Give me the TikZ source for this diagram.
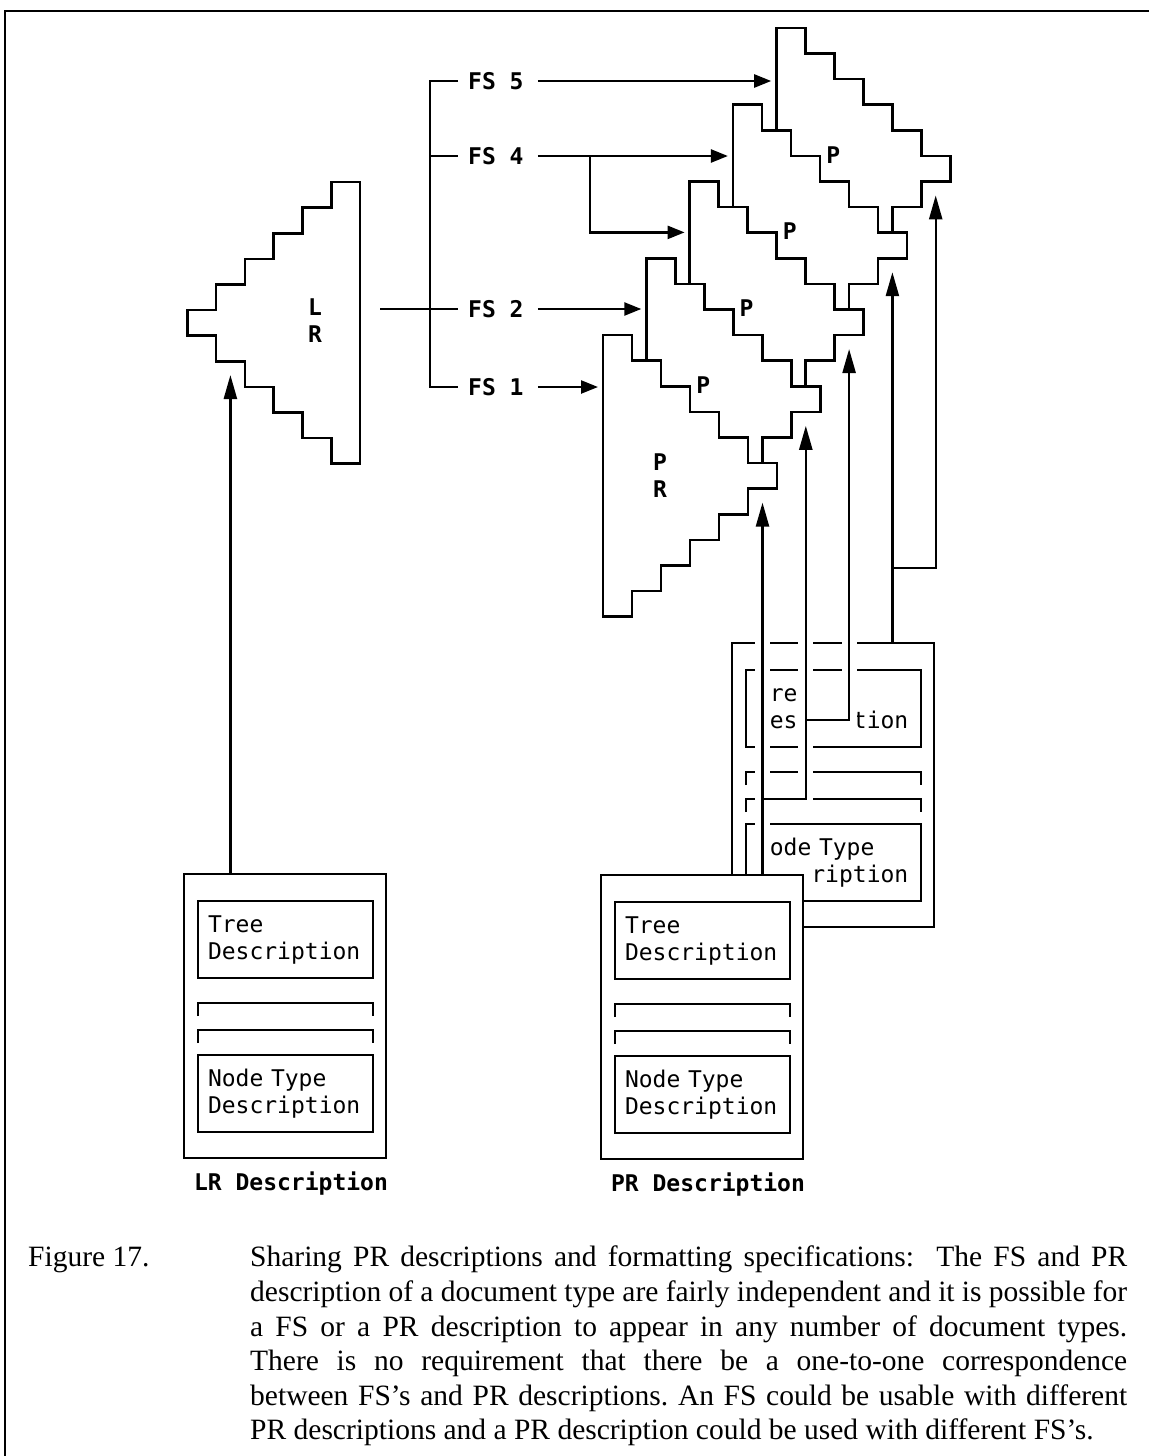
\documentclass[tikz,border=0pt]{standalone}
\usepackage{fontspec}
\setmainfont{Liberation Serif}
\newfontfamily\dotfont{DejaVu Sans Mono}[WordSpace={1,0,0}]
\usetikzlibrary{arrows.meta, positioning, calc, backgrounds}

% one description: frame, tree box, two open slots, node type box
\newcommand{\descframe}[5]{%
  \node[doc, anchor=north west] (#1) at (#2,#3) {};
  \node[part, anchor=north west] (#1-tree) at (#2+14,#3+27) {#4};
  \node[part, anchor=north west] (#1-type) at (#2+14,#3+181) {#5};
  \draw[wire] (#2+14,#3+142) |- (#2+189,#3+129) -- ++(0,13);
  \draw[wire] (#2+14,#3+169) |- (#2+189,#3+156) -- ++(0,13);
}

\begin{document}
\begin{tikzpicture}[
        x=1pt, y=-1pt,
        wire/.style={line width=2.4pt},
        stair/.style={draw, fill=white, line width=2.6pt},
        stairs/.style={insert path={
            foreach \i in {1,...,5}{ -- ++(#1,0) -- ++(0,25.6) } -- ++(#1,0) -- ++(0,25.6)
            foreach \i in {1,...,5}{ -- ++({-(#1)},0) -- ++(0,25.6) } -- ++({-(#1)},0) -- cycle}},
        doc/.style={draw, fill=white, line width=2.6pt, minimum width=202pt, minimum height=284pt,
            inner sep=0pt, outer sep=0pt},
        part/.style={draw, line width=2.4pt, minimum width=175pt, minimum height=77pt, text width=155pt,
            align=left, inner sep=0pt, outer sep=0pt, font=\dotfont\fontsize{23}{27}\selectfont},
        fs/.style={inner sep=0pt, font=\dotfont\bfseries\fontsize{23}{27}\selectfont},
        rel/.style={wire, -{Triangle[length=24pt,width=13pt]}},
        fsrel/.style={wire, -{Triangle[length=17pt,width=13pt]}, shorten >=5pt},
        gap/.style={white, line width=15pt},
        capt/.style={inner sep=0pt, font=\fontsize{29.5}{34.6}\selectfont\frenchspacing}
    ]
    \useasboundingbox (0,0) rectangle (1149,1456);
    \draw[wire] (1149,11) -- (5,11) -- (5,1456);

    % presentation trees, the back ones first
    \foreach \k in {4,3,2,1,0} {
        \coordinate (s\k) at (603+43.3*\k,335-76.8*\k);
        \coordinate (t\k) at (762.5+43.3*\k,502.6-76.8*\k);
        \draw[stair] (s\k) [stairs=29];
    }
    \foreach \k in {1,...,4}
        \node[fs] (p\k) at (660+43.3*\k,462-76.8*\k) {P};
    \node[fs, align=center] (pr) at (660,476) {P\\R};

    % logical representation
    \coordinate (lr) at (360,182);
    \draw[stair] (lr) [stairs=-28.8];
    \node[fs, align=center] (lrlab) at (315,321) {L\\R};

    % formatting specifications
    \node[fs, anchor=west] (fs5) at (468,81) {FS 5};
    \node[fs, anchor=west] (fs4) at (468,156) {FS 4};
    \node[fs, anchor=west] (fs2) at (468,309) {FS 2};
    \node[fs, anchor=west] (fs1) at (468,387) {FS 1};
    \draw[wire] ([xshift=-10pt]fs5.west) -| ([xshift=-38pt]fs1.west) -- ([xshift=-10pt]fs1.west);
    \draw[wire] ([xshift=-38pt]fs4.west) -- ([xshift=-10pt]fs4.west);
    \draw[wire] ([xshift=20pt]lr |- fs2) -- ([xshift=-10pt]fs2.west);
    \draw[fsrel] ([xshift=14pt]fs5.east) -- (s4 |- fs5);
    \draw[fsrel] ([xshift=14pt]fs4.east) -- (s3 |- fs4);
    \coordinate (fork) at ([xshift=66pt]fs4.east);
    \draw[fsrel] (fork) |- ([yshift=-51pt]s2);
    \draw[fsrel] ([xshift=14pt]fs2.east) -- (s1 |- fs2);
    \draw[fsrel] ([xshift=14pt]fs1.east) -- (s0 |- fs1);

    % PR descriptions
    \descframe{prdoc}{601}{875}{Tree\\Description}{Node Type\\Description}
    \node[fs, below=14pt of prdoc, xshift=6pt] (prcap) {PR Description};
    \begin{scope}[on background layer]
        \descframe{bkdoc}{732}{643}{\phantom{T}re\\\phantom{D}es\phantom{crip}tion}{\phantom{N}ode Type\\\phantom{Desc}ription}
        \draw[rel] (bkdoc.north -| t3) -- (t3);
        \draw[rel] (t3 |- 0,568) -| (t4);
        \draw[gap] (prdoc.north -| t0) -- (t0) (t0 |- 0,799) -| (t1) (t1 |- 0,720) -| (t2);
        \draw[rel] (prdoc.north -| t0) -- (t0);
        \draw[rel] (t0 |- 0,799) -| (t1);
        \draw[rel] (t1 |- 0,720) -| (t2);
    \end{scope}

    % LR description
    \descframe{lrdoc}{184}{874}{Tree\\Description}{Node Type\\Description}
    \node[fs, below=14pt of lrdoc, xshift=6pt] (lrcap) {LR Description};
    \coordinate (tl) at (230.4,375);
    \draw[rel] (lrdoc.north -| tl) -- (tl);

    % caption
    \node[capt, anchor=base west] (fig) at (28,1266) {Figure 17.};
    \node[capt, anchor=north west, align=left] (caption) at (250,1246) {%
        \makebox[877pt][s]{Sharing PR descriptions and formatting specifications:\ \ The FS and PR}\\
        \makebox[877pt][s]{description of a document type are fairly independent and it is possible for}\\
        \makebox[877pt][s]{a FS or a PR description to appear in any number of document types.}\\
        \makebox[877pt][s]{There is no requirement that there be a one-to-one correspondence}\\
        \makebox[877pt][s]{between FS's and PR descriptions. An FS could be usable with different}\\
        PR descriptions and a PR description could be used with different FS's.};
\end{tikzpicture}
\end{document}
